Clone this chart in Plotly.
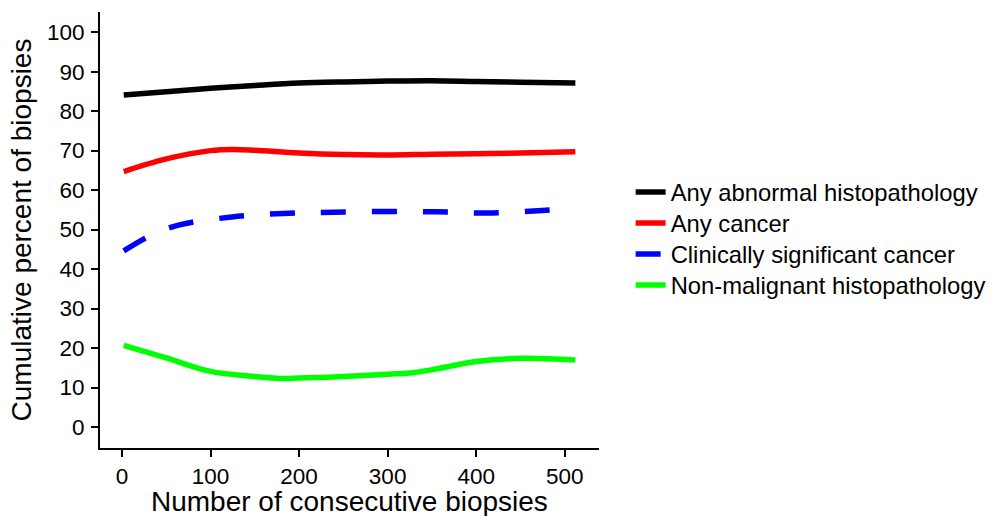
import plotly.graph_objects as go

# Data
x_black = [2, 50, 100, 150, 200, 250, 300, 350, 400, 450, 512]
y_black = [84.1, 84.9, 85.8, 86.5, 87.1, 87.4, 87.6, 87.7, 87.5, 87.3, 87.1]

x_red = [2, 50, 100, 125, 150, 200, 250, 300, 350, 400, 450, 512]
y_red = [64.7, 67.9, 70.0, 70.3, 70.1, 69.4, 69.0, 68.9, 69.1, 69.2, 69.4, 69.7]

x_blue = [2, 35, 65, 124, 182, 238, 297, 355, 412, 470, 512]
y_blue = [44.6, 48.8, 51.2, 53.2, 54.1, 54.4, 54.6, 54.5, 54.2, 54.8, 55.3]

x_green = [2, 50, 100, 150, 180, 200, 250, 300, 325, 350, 400, 450, 512]
y_green = [20.7, 17.5, 14.1, 12.8, 12.3, 12.4, 12.8, 13.4, 13.7, 14.5, 16.6, 17.4, 17.0]

names = ["Any abnormal histopathology", "Any cancer",
         "Clinically significant cancer", "Non-malignant histopathology"]
colors = ["#000000", "#ff0000", "#0000ff", "#00ff00"]
dashes = ["solid", "solid", "25px,26px", "solid"]

x_ticks = [0, 100, 200, 300, 400, 500]
y_ticks = [0, 10, 20, 30, 40, 50, 60, 70, 80, 90, 100]

x_title = "Number of consecutive biopsies"
y_title = "Cumulative percent of biopsies"

FONT = "Liberation Sans, Arial, Helvetica, sans-serif"
W, H = 990, 516

legend_ids = ["legend", "legend2", "legend3", "legend4"]
legend_rows = [192, 223, 254, 285]  # pixel centres of legend rows

fig = go.Figure()
for xs, ys, n, c, d, lg in zip([x_black, x_red, x_blue, x_green],
                               [y_black, y_red, y_blue, y_green],
                               names, colors, dashes, legend_ids):
    fig.add_trace(go.Scatter(x=xs, y=ys, mode="lines", name=n, legend=lg, showlegend=True,
                             line=dict(color=c, width=5.5, dash=d, shape="spline", smoothing=1.0)))

legend_common = dict(xref="container", yref="container", x=0.637,
                     xanchor="left", yanchor="middle", visible=True,
                     font=dict(size=23.8, color="black"), itemwidth=30,
                     bgcolor="rgba(0,0,0,0)")
layout_legends = {}
for lg, row in zip(legend_ids, legend_rows):
    layout_legends[lg] = dict(legend_common, y=1 - row / H)

fig.update_layout(
    width=W, height=H, showlegend=True,
    margin=dict(l=100, r=391, t=12, b=68),
    paper_bgcolor="white", plot_bgcolor="white",
    font=dict(family=FONT, color="black"),
    xaxis=dict(range=[-24.8, 538.7], tickvals=x_ticks, showgrid=False, zeroline=False,
               showline=True, linecolor="black", linewidth=2, ticks="outside",
               ticklen=7, tickwidth=2, tickcolor="black", tickfont=dict(size=22.5),
               automargin=False),
    yaxis=dict(range=[-5.3, 105.1], tickvals=y_ticks, showgrid=False, zeroline=False,
               showline=True, linecolor="black", linewidth=2, ticks="outside",
               ticklen=7, tickwidth=2, tickcolor="black", tickfont=dict(size=22.5),
               ticklabelstandoff=2, automargin=True,
               title=dict(text=y_title, font=dict(size=28), standoff=7)),
    annotations=[dict(text=x_title, xref="paper", yref="paper", x=0.5, y=-0.123,
                      xanchor="center", yanchor="middle", showarrow=False,
                      font=dict(size=28, color="black"))],
    **layout_legends,
)

fig.write_html("out.html", config={"displayModeBar": False},
               post_script="document.body.style.margin='0';")
